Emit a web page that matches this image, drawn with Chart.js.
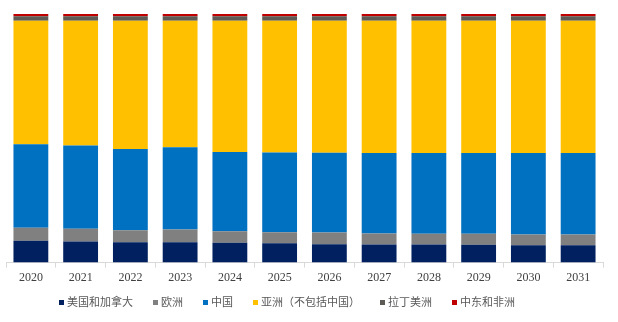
<!DOCTYPE html>
<html>
<head>
<meta charset="utf-8">
<script src="https://cdn.jsdelivr.net/npm/chart.js@4/dist/chart.umd.min.js"></script>
<style>
  html, body { margin: 0; padding: 0; background: #ffffff; }
  #wrap { width: 618px; height: 322px; position: relative; }
  #legend {
    position: absolute; left: 59px; top: 295px;
    display: flex; align-items: center; white-space: nowrap;
    font-family: 'Liberation Serif', 'Noto Sans CJK SC', serif;
    font-size: 11px; line-height: 14px; color: #595959;
  }
  #legend .item { display: flex; align-items: center; margin-right: 20px; }
  #legend .box { width: 5px; height: 5px; margin-right: 3px; }
</style>
</head>
<body>
<div id="wrap">
  <canvas id="share"></canvas>
  <div id="legend"></div>
</div>
<script>
// Regional share by year, in percent (stacked bottom to top)
const years = ['2020', '2021', '2022', '2023', '2024', '2025', '2026', '2027', '2028', '2029', '2030', '2031'];
const usCanada = [8.75, 8.47, 8.19, 8.19, 7.94, 7.78, 7.38, 7.26, 7.26, 7.14, 6.98, 6.98];
const europe   = [5.24, 5.12, 4.84, 5.12, 4.68, 4.44, 4.72, 4.44, 4.31, 4.44, 4.31, 4.31];
const china    = [33.6, 33.5, 32.7, 33.1, 31.9, 32.1, 32.1, 32.4, 32.5, 32.5, 32.8, 32.8];
const asiaExCn = [49.71, 50.21, 51.57, 50.89, 52.78, 52.98, 53.1, 53.2, 53.23, 53.22, 53.21, 53.21];
const latam    = [1.75, 1.75, 1.75, 1.75, 1.75, 1.75, 1.75, 1.75, 1.75, 1.75, 1.75, 1.75];
const meAfrica = [0.95, 0.95, 0.95, 0.95, 0.95, 0.95, 0.95, 0.95, 0.95, 0.95, 0.95, 0.95];

const seriesNames = ['美国和加拿大', '欧洲', '中国', '亚洲（不包括中国）', '拉丁美洲', '中东和非洲'];
const seriesColors = ['#002060', '#808080', '#0070C0', '#FFC000', '#5E5A55', '#C00000'];
const seriesData = [usCanada, europe, china, asiaExCn, latam, meAfrica];

const ctx = document.getElementById('share').getContext('2d');

const chart = new Chart(ctx, {
  type: 'bar',
  data: {
    labels: years,
    datasets: seriesData.map((values, i) => ({
      label: seriesNames[i],
      data: values,
      backgroundColor: seriesColors[i],
      borderWidth: 0,
      barPercentage: 0.7,
      categoryPercentage: 1.0
    }))
  },
  options: {
    responsive: true,
    maintainAspectRatio: false,
    animation: false,
    layout: {
      padding: { left: 6, right: 15, top: 14, bottom: 34 }
    },
    plugins: {
      legend: { display: false },
      tooltip: { enabled: false }
    },
    scales: {
      x: {
        stacked: true,
        grid: {
          display: true,
          drawOnChartArea: false,
          drawTicks: true,
          tickLength: 5,
          color: '#D9D9D9'
        },
        border: { display: true, color: '#D9D9D9' },
        ticks: {
          color: '#404040',
          padding: 3,
          font: { family: "'Liberation Serif', serif", size: 12 }
        }
      },
      y: {
        stacked: true,
        display: false,
        min: 0,
        max: 100
      }
    }
  }
});

// Legend row built from the chart's own legend items
const legendEl = document.getElementById('legend');
chart.options.plugins.legend.labels.generateLabels(chart).forEach(item => {
  const row = document.createElement('span');
  row.className = 'item';
  const box = document.createElement('span');
  box.className = 'box';
  box.style.background = item.fillStyle;
  const txt = document.createElement('span');
  txt.textContent = item.text;
  row.appendChild(box);
  row.appendChild(txt);
  legendEl.appendChild(row);
});
</script>
</body>
</html>
